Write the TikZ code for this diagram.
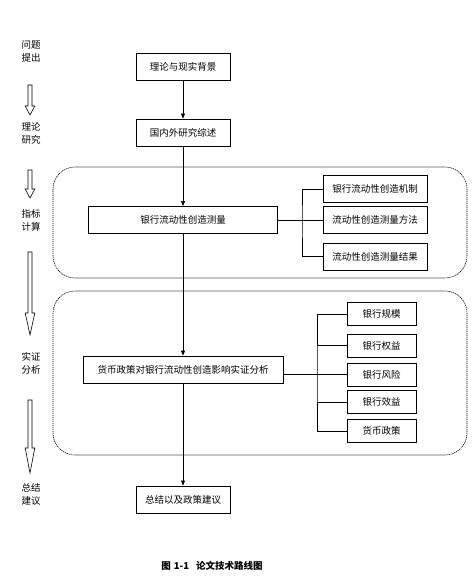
\documentclass[tikz,border=0pt]{standalone}
\usepackage{fontspec}
\newfontfamily\cjk{Noto Sans CJK SC}
\usetikzlibrary{arrows.meta}
\tikzset{
  box/.style={draw, line width=0.8pt, minimum height=27pt, inner sep=0pt, font=\cjk\fontsize{9.5}{11}\selectfont},
  sbox/.style={box, minimum height=23pt},
  lbl/.style={align=center, inner sep=0pt, font=\cjk\fontsize{9.5}{13}\selectfont},
  region/.style={draw, line width=0.6pt, dash pattern=on 1.2pt off 0.8pt, rounded corners=22pt},
  conn/.style={line width=0.6pt},
  arr/.style={conn, -{Triangle[length=5pt,width=4pt]}},
  hollow/.style={draw, line width=0.6pt, fill=white}
}
\newcommand{\hollowarrow}[4]{% x, top, headstart, tip
  \draw[hollow] (#1-2,#2) -- (#1+2,#2) -- (#1+2,#3) -- (#1+4.8,#3) -- (#1,#4) -- (#1-4.8,#3) -- (#1-2,#3) -- cycle;
}
\begin{document}
\begin{tikzpicture}[x=1pt,y=-1pt]
\useasboundingbox (0,0) rectangle (471,577);
% regions
\draw[region] (53,167) rectangle (467,278);
\draw[region] (53,291) rectangle (467,455);
% main column
\node[box, minimum width=94pt] (b1) at (183,66.5) {理论与现实背景};
\node[box, minimum width=94pt] (b2) at (183,132.5) {国内外研究综述};
\node[box, minimum width=189pt] (b3) at (183,220) {银行流动性创造测量};
\node[box, minimum width=200pt] (b4) at (183,369.5) {货币政策对银行流动性创造影响实证分析};
\node[box, minimum width=94pt] (b5) at (183,499.5) {总结以及政策建议};
% right group 1
\node[box, minimum width=104pt] (r1) at (375,189) {银行流动性创造机制};
\node[box, minimum width=104pt] (r2) at (375,220) {流动性创造测量方法};
\node[box, minimum width=104pt] (r3) at (375,256.5) {流动性创造测量结果};
% right group 2
\node[sbox, minimum width=69pt] (s1) at (381.5,314) {银行规模};
\node[sbox, minimum width=69pt] (s2) at (381.5,345.5) {银行权益};
\node[sbox, minimum width=69pt] (s3) at (381.5,374.5) {银行风险};
\node[sbox, minimum width=69pt] (s4) at (381.5,402) {银行效益};
\node[sbox, minimum width=69pt] (s5) at (381.5,431) {货币政策};
% main arrows
\draw[arr] (b1) -- (b2);
\draw[arr] (b2) -- (b3);
\draw[arr] (b3) -- (b4);
\draw[arr] (b4) -- (b5);
% bracket 1
\coordinate (k1) at (302,220);
\draw[conn] (b3.east) -- (r2.west);
\draw[conn] (r1.west) -| (k1) |- (r3.west);
% bracket 2
\coordinate (k2) at (317,374.5);
\draw[conn] (b4.east |- s3.west) -- (s3.west);
\draw[conn] (s1.west) -| (k2) |- (s5.west);
\draw[conn] (s2.west) -- (s2.west -| k2);
\draw[conn] (s4.west) -- (s4.west -| k2);
% left column
\node[lbl] (l1) at (31,51.5) {问题\\提出};
\node[lbl] (l2) at (31,133.5) {理论\\研究};
\node[lbl] (l3) at (31,220.5) {指标\\计算};
\node[lbl] (l4) at (31,363.5) {实证\\分析};
\node[lbl] (l5) at (31,494) {总结\\建议};
\hollowarrow{30}{85}{106}{115}
\hollowarrow{30}{170}{189}{198}
\hollowarrow{30}{252}{313}{335}
\hollowarrow{30}{400}{448}{473}
% caption
\node[font=\cjk\fontsize{9.5}{12}\selectfont\bfseries] (cap) at (212,566) {图\hspace{3pt}1-1\hspace{7pt}论文技术路线图};
\end{tikzpicture}
\end{document}
